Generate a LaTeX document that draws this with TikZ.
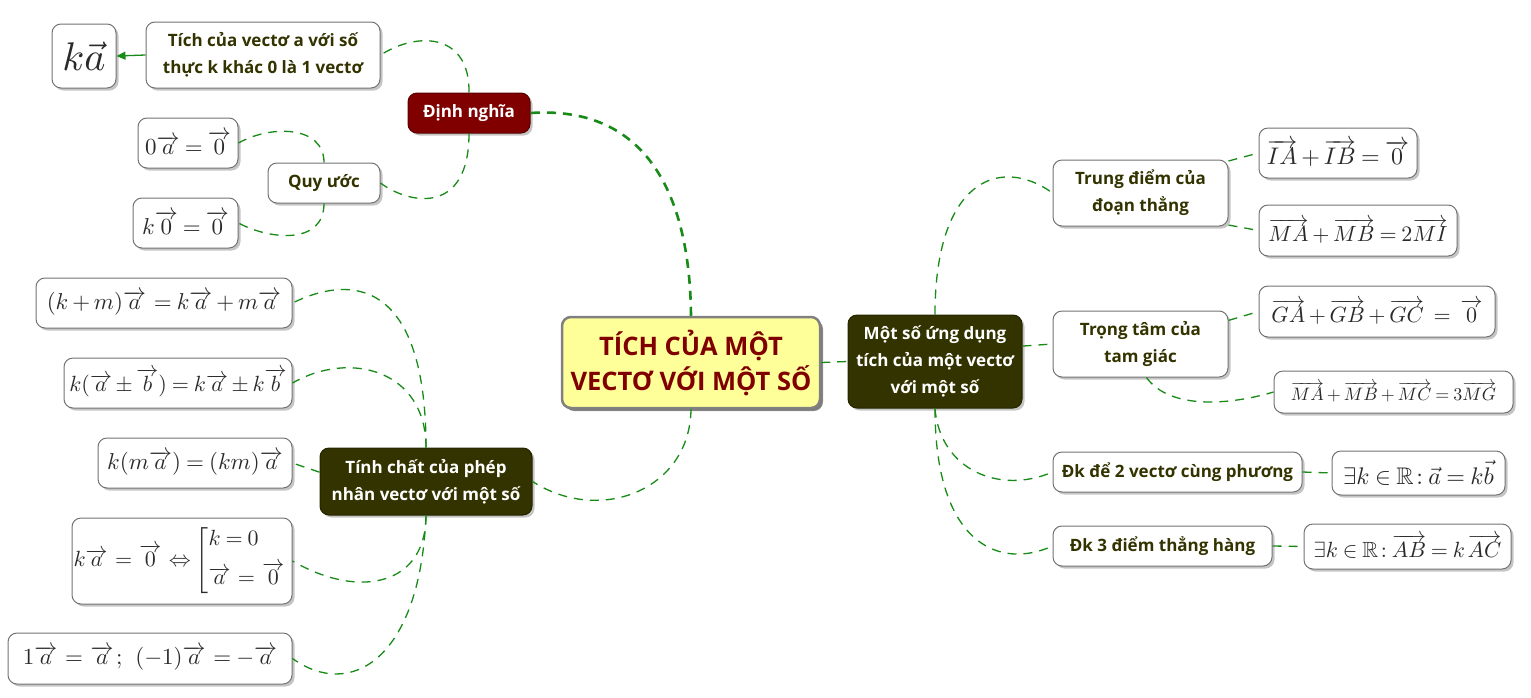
\documentclass[tikz,border=0pt]{standalone}
\usepackage{amsmath,amssymb}
\usepackage{fontspec}
\setmainfont{Open Sans}
\DeclareFontShape{OT1}{cmr}{m}{n}{<->cmr10}{}
\DeclareFontShape{OML}{cmm}{m}{it}{<->cmmi10}{}
\DeclareFontShape{OMS}{cmsy}{m}{n}{<->cmsy10}{}
\DeclareFontShape{OMX}{cmex}{m}{n}{<->cmex10}{}
\usetikzlibrary{shadows,arrows.meta}
\definecolor{txt}{HTML}{333300}
\definecolor{dkc}{HTML}{333300}
\definecolor{dred}{HTML}{800000}
\definecolor{cyel}{HTML}{FFFF99}
\definecolor{lg}{HTML}{178A17}
\definecolor{mtxt}{HTML}{2A2A2A}
\newcommand\mfs[1]{\fontsize{#1}{#1}\selectfont\thinmuskip=2mu\medmuskip=3mu\thickmuskip=4mu}
\tikzset{
  sz/.style 2 args={minimum width=#1pt, minimum height=#2pt},
  wbox/.style={draw=black!55, line width=1pt, fill=white, rounded corners=9pt, inner sep=0pt,
    align=center, text=txt, font=\bfseries\fontsize{17}{27}\selectfont,
    drop shadow={shadow xshift=2.5pt, shadow yshift=-2.5pt, fill=black!45}},
  mbox/.style={wbox, text=mtxt, font=\mfs{23}},
  dbox/.style={wbox, fill=dkc, draw=dkc!70!black, text=white},
  conn/.style={draw=lg, dash pattern=on 9pt off 7pt, line width=1.3pt},
}
\begin{document}
\begin{tikzpicture}[x=1pt,y=-1pt]
\useasboundingbox (0,0) rectangle (1531,697);
% centre
\node[wbox, sz={258}{91}, fill=cyel, draw=black!50, line width=2.5pt, text=dred,
  font=\bfseries\fontsize{25.5}{35}\selectfont,
  drop shadow={shadow xshift=3pt, shadow yshift=-3pt, fill=black!80}] (ctr) at (691,362.5)
  {TÍCH CỦA MỘT\\VECTƠ VỚI MỘT SỐ};
% left top
\node[dbox, sz={122}{40}, fill=dred, draw=dred!70!black] (dn) at (469,113) {Định nghĩa};
\node[wbox, sz={234}{66}] (tich) at (263,55) {Tích của vectơ a với số\\thực k khác 0 là 1 vectơ};
\node[mbox, sz={64}{64}, font=\mfs{40}] (ka) at (84,56) {$k\vec{a}$};
\node[wbox, sz={112}{40}] (qu) at (324,183) {Quy ước};
\node[mbox, sz={100}{50}] (a0) at (188,143) {$0\overrightarrow{a}=\overrightarrow{0}$};
\node[mbox, sz={105}{50}] (k0) at (185.5,223) {$k\overrightarrow{0}=\overrightarrow{0}$};
% left bottom
\node[dbox, sz={212}{67}] (tc) at (426,481.5) {Tính chất của phép\\nhân vectơ với một số};
\node[mbox, sz={256}{50}] (km) at (164,303) {$(k+m)\overrightarrow{a}\,=k\overrightarrow{a}+m\overrightarrow{a}$};
\node[mbox, sz={228}{50}, font=\mfs{22}] (kab) at (178,383) {$k(\overrightarrow{a}\pm\overrightarrow{b})=k\overrightarrow{a}\pm k\overrightarrow{b}$};
\node[mbox, sz={194}{50}] (kma) at (195,463) {$k(m\overrightarrow{a})=(km)\overrightarrow{a}$};
\node[mbox, sz={220}{86}, font=\mfs{22}] (kz) at (182,561) {$k\overrightarrow{a}\,=\,\overrightarrow{0}\,\Leftrightarrow\left[\begin{array}{@{}l}k=0\\[10pt]\overrightarrow{a}\,=\,\overrightarrow{0}\end{array}\right.$};
\node[mbox, sz={284}{51}] (one) at (150,658.5) {$1\overrightarrow{a}\,=\,\overrightarrow{a}\,;\;\;(-1)\overrightarrow{a}\,=-\overrightarrow{a}$};
% right
\node[dbox, sz={174}{93}] (ms) at (935,361.5) {Một số ứng dụng\\tích của một vectơ\\với một số};
\node[wbox, sz={175}{66}] (td) at (1140.5,193) {Trung điểm của\\đoạn thẳng};
\node[mbox, sz={158}{50}, font=\mfs{24}] (ia) at (1338,153) {$\overrightarrow{IA}+\overrightarrow{IB}=\overrightarrow{0}$};
\node[mbox, sz={198}{51}, font=\mfs{22}] (mi) at (1358,230.5) {$\overrightarrow{MA}+\overrightarrow{MB}=2\overrightarrow{MI}$};
\node[wbox, sz={175}{66}] (tt) at (1140.5,344) {Trọng tâm của\\tam giác};
\node[mbox, sz={236}{51}, font=\mfs{22}] (ga) at (1377,311.5) {$\overrightarrow{GA}+\overrightarrow{GB}+\overrightarrow{GC}\;=\;\overrightarrow{0}$};
\node[mbox, sz={239}{42}, font=\mfs{18}] (mg) at (1393.5,392) {$\overrightarrow{MA}+\overrightarrow{MB}+\overrightarrow{MC}=3\overrightarrow{MG}$};
\node[wbox, sz={249}{40}] (dk2) at (1177.5,472) {Đk để 2 vectơ cùng phương};
\node[mbox, sz={173}{44}, font=\mfs{24}] (e2) at (1418.5,473) {$\exists k\in\mathbb{R}\!:\vec{a}=k\vec{b}$};
\node[wbox, sz={219}{40}] (dk3) at (1162.5,546) {Đk 3 điểm thẳng hàng};
\node[mbox, sz={207}{45}, font=\mfs{22}] (e3) at (1407.5,546.5) {$\exists k\in\mathbb{R}\!:\overrightarrow{AB}=k\,\overrightarrow{AC}$};
% connectors
\draw[conn, line width=2.6pt] (ctr.north) .. controls (690,200) and (650,105) .. (dn.east);
\draw[conn] (dn.north) .. controls (470,35) and (420,30) .. (tich.east);
\draw[conn] (dn.south) .. controls (469,215) and (410,205) .. (qu.east);
\draw[conn] (qu.north) .. controls (324,125) and (270,125) .. (a0.east);
\draw[conn] (qu.south) .. controls (324,245) and (270,240) .. (k0.east);
\draw[draw=lg, line width=1.3pt, -{Triangle[length=9pt,width=8pt]}] (tich.west) -- (ka.east);
\draw[conn] (ctr.south) .. controls (690,490) and (600,525) .. (tc.east);
\draw[conn] (tc.north) .. controls (426,290) and (360,270) .. (km.east);
\draw[conn] (tc.north) .. controls (426,370) and (350,350) .. (kab.east);
\draw[conn] (tc.175) -- (kma.east);
\draw[conn] (tc.south) .. controls (426,585) and (360,600) .. (kz.east);
\draw[conn] (tc.south) .. controls (420,660) and (350,700) .. (one.east);
\draw[conn] (ctr.east) -- (ms.west);
\draw[conn] (ms.north) .. controls (935,180) and (1000,155) .. (td.west);
\draw[conn] (ms.10) -- (tt.west);
\draw[conn] (ms.south) .. controls (940,470) and (1000,495) .. (dk2.west);
\draw[conn] (ms.south) .. controls (935,545) and (1000,570) .. (dk3.west);
\draw[conn] (td.20) -- (ia.west);
\draw[conn] (td.-20) -- (mi.west);
\draw[conn] (tt.15) -- (ga.west);
\draw[conn] (tt.-80) .. controls (1170,410) and (1230,405) .. (mg.west);
\draw[conn] (dk2.east) -- (e2.west);
\draw[conn] (dk3.east) -- (e3.west);
\end{tikzpicture}
\end{document}
